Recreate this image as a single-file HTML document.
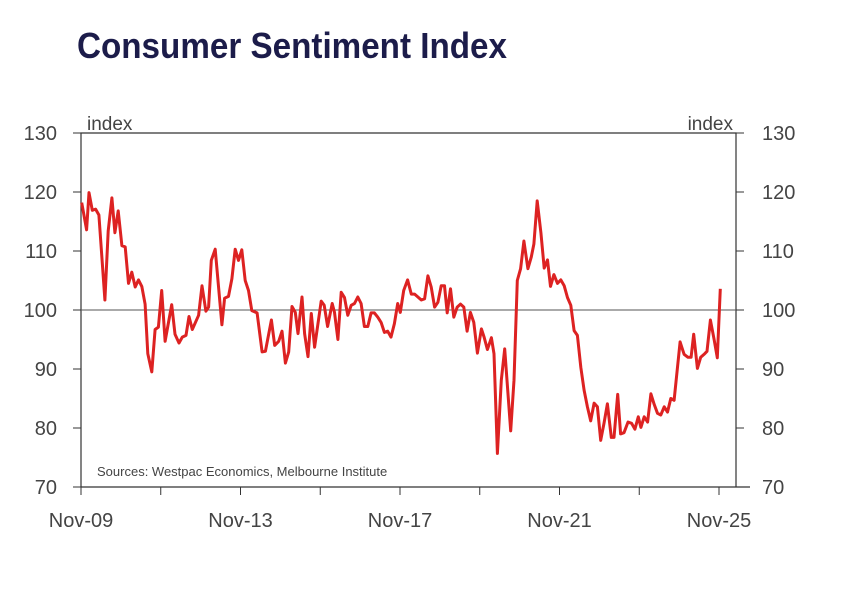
<!DOCTYPE html>
<html><head><meta charset="utf-8"><style>
body{margin:0;background:#fff;width:841px;height:595px;overflow:hidden}
svg{display:block}
text{font-family:"Liberation Sans",sans-serif}
</style></head><body>
<svg id="chart" width="841" height="595">
<text x="77" y="58" font-size="36" font-weight="bold" fill="#1c1c4a" style="font-family:'Liberation Sans Narrow','Liberation Sans',sans-serif" textLength="430" lengthAdjust="spacingAndGlyphs">Consumer Sentiment Index</text>
<g id="axes"></g>
<g id="series"></g>
<text x="97" y="476" font-size="13" fill="#444">Sources: Westpac Economics, Melbourne Institute</text>
<text x="87" y="130" font-size="19" fill="#444">index</text>
<text x="733" y="130" font-size="19" fill="#444" text-anchor="end">index</text>
</svg>
<script>
const months=[0.2,1.7,2.4,3.4,4.4,5.4,7.2,8.2,9.3,10.2,11.2,12.3,13.3,14.3,15.3,16.3,17.3,18.3,19.3,20.1,21.3,22.3,23.3,24.3,25.3,27.3,28.3,29.5,30.5,31.6,32.5,33.5,35.4,36.4,37.6,38.4,39.2,40.4,42.4,43.2,44.4,45.4,46.4,47.4,48.4,49.4,50.4,51.4,53,54.5,55.5,57.3,58.3,59.5,60.5,61.5,62.5,63.5,64.5,65.3,66.5,67.3,68.3,69.3,70.3,72.3,73.2,74.2,75.6,76.3,77.3,78.3,79.3,80.3,81.3,82.3,83.3,84.3,85.3,86.3,87.3,88.3,89.3,90.3,91.3,92.3,93.3,94.3,95.3,96.1,97.1,98.3,99.4,100.4,101.4,102.4,103.4,104.4,105.4,106.4,107.4,108.4,109.4,110.2,111.2,112.2,113.2,114.2,115.2,116.2,117.2,118.2,119.3,120.5,121.3,122.3,123.5,124.3,125.3,126.5,127.5,129.3,130.3,131.3,132.3,133.3,134.5,135.5,136.3,137.3,138.4,139.4,140.4,141.3,142.3,143.4,144.4,145.4,146.4,147.4,148.4,149.4,150.4,151.4,152.4,153.4,154.4,155.4,156.4,157.4,158.4,159.6,160.4,161.5,162.4,163.4,164.6,165.7,166.7,167.7,168.5,169.5,170.5,171.5,172.5,173.5,174.5,175.5,176.5,177.5,178.5,180.3,181.5,182.6,183.6,184.4,185.5,186.5,187.7,188.4,189.4,190.5,191.5,192.4];
const values=[118.2,113.6,119.9,116.9,117.1,116.1,101.7,113.4,119,113.1,116.8,110.9,110.7,104.5,106.4,103.9,105.1,104,101,92.6,89.5,96.7,97.1,103.3,94.7,100.9,95.9,94.4,95.4,95.7,98.9,96.7,99.1,104.1,99.8,100.5,108.4,110.3,97.5,102,102.3,105.3,110.3,108.4,110.2,105,103.3,99.9,99.5,92.9,93,98.3,94,94.7,96.4,91,92.9,100.6,99.6,96,102.2,96,92.1,99.4,93.7,101.5,100.8,97.2,101.1,99.6,95,103,102.1,99.1,100.8,101.1,102.2,101.1,97.2,97.2,99.5,99.5,98.8,97.9,96.2,96.4,95.4,97.7,101.1,99.6,103.3,105.1,102.7,102.7,102.2,101.7,101.9,105.8,103.9,100.5,101.3,104.1,104.1,99.5,103.6,98.8,100.5,101,100.5,96.4,99.6,97.9,92.7,96.8,95.4,93.3,95.3,92.6,75.7,88.1,93.4,79.5,88.1,105,107,111.7,107,109,111.2,118.5,113.1,107.1,108.5,104,106,104.5,105.1,104.1,102.1,100.8,96.5,95.7,90.3,86.4,83.6,81.2,84.2,83.6,77.9,80.8,84.1,78.4,78.4,85.7,79,79.2,81,80.8,79.8,81.9,80.1,81.9,81,85.8,84,82.5,82.2,83.6,82.7,85,84.7,94.6,92.5,92,92,95.9,90.1,92,92.6,93,98.3,95.1,91.9,103.6];
const yTicks=[70,80,90,100,110,120,130];
const xTickLabels=["Nov-09","Nov-13","Nov-17","Nov-21","Nov-25"];
const xTickLabelMonths=[0,48,96,144,192];
const xMinorMonths=[0,24,48,72,96,120,144,168,192];

const NS="http://www.w3.org/2000/svg";
const L=81,R=736,T=133,B=487;
const xs=m=>L+m*(719-L)/192;
const ys=v=>B-(v-70)*(B-T)/60;
function mk(tag,attrs,parent,txt){const e=document.createElementNS(NS,tag);for(const k in attrs)e.setAttribute(k,attrs[k]);if(txt!==undefined)e.textContent=txt;parent.appendChild(e);return e;}
const ax=document.getElementById('axes');
const fr=mk('path',{d:`M${L},${B}V${T}H${R}V${B}`,fill:'none',stroke:'#333','stroke-width':1.2},ax);


const xa=mk('line',{x1:L,x2:750,y1:B,y2:B,stroke:'#333','stroke-width':1.2},ax);


const ref=mk('line',{x1:L,x2:R,y1:ys(100),y2:ys(100),stroke:'#555','stroke-width':1},ax);


yTicks.forEach(v=>{
  const y=ys(v);
  mk('line',{x1:L-8,x2:L,y1:y,y2:y,stroke:'#333'},ax);
  mk('line',{x1:R,x2:R+8,y1:y,y2:y,stroke:'#333'},ax);
  const t1=mk('text',{x:57,y:y+7,'font-size':20,fill:'#444','text-anchor':'end'},ax,v);
  
  
  const t2=mk('text',{x:762,y:y+7,'font-size':20,fill:'#444'},ax,v);
  
  
});
xMinorMonths.forEach(m=>{mk('line',{x1:xs(m),x2:xs(m),y1:B,y2:B+8,stroke:'#333'},ax);});
xTickLabels.forEach((s,i)=>{
  const t=mk('text',{x:xs(xTickLabelMonths[i]),y:527,'font-size':20,fill:'#444','text-anchor':'middle'},ax,s);
  
  
});
const d=months.map((m,i)=>(i?'L':'M')+xs(m).toFixed(1)+','+ys(values[i]).toFixed(1)).join('');
const p=mk('path',{d:d,fill:'none',stroke:'#dd2222','stroke-width':3,'stroke-linejoin':'round'},document.getElementById('series'));


</script>
</body></html>
